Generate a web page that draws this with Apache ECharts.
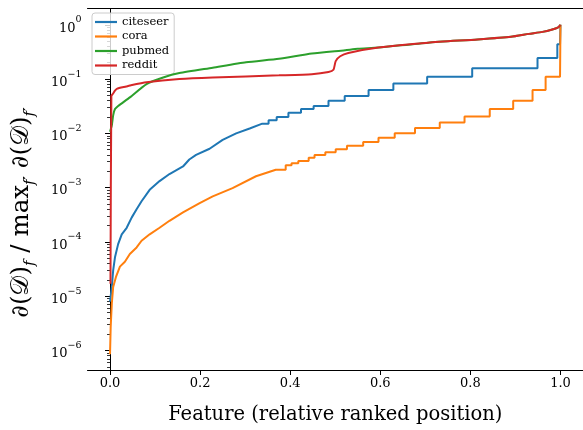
<!DOCTYPE html>
<html>
<head>
<meta charset="utf-8">
<script src="https://cdn.jsdelivr.net/npm/echarts@6/dist/echarts.min.js"></script>
<style>
html,body{margin:0;padding:0;background:#fff;}
#chart{width:583px;height:430px;}
</style>
</head>
<body>
<div id="chart"></div>
<script>
// ---- data ----
const seriesNames = ['citeseer', 'cora', 'pubmed', 'reddit'];

const citeseerX = [0, 0.004, 0.007, 0.011, 0.018, 0.026, 0.037, 0.048, 0.059, 0.070, 0.088, 0.110, 0.132, 0.162, 0.176, 0.191, 0.221, 0.250, 0.280, 0.310, 0.338,
  0.352, 0.352, 0.370, 0.370, 0.396, 0.396, 0.424, 0.424, 0.452, 0.452, 0.485, 0.485, 0.521, 0.521, 0.574, 0.574, 0.629, 0.629, 0.704, 0.704, 0.804, 0.804, 0.949, 0.949, 0.993, 0.993, 0.999, 1.0];
const citeseerY = [7.9e-6, 1.48e-5, 3.0e-5, 5.2e-5, 9.1e-5, 1.38e-4, 1.82e-4, 2.8e-4, 4.0e-4, 5.6e-4, 9.1e-4, 1.32e-3, 1.78e-3, 2.45e-3, 3.3e-3, 4.0e-3, 5.2e-3, 7.6e-3, 0.0100, 0.0123, 0.0151,
  0.0151, 0.0175, 0.0175, 0.020, 0.020, 0.024, 0.024, 0.028, 0.028, 0.032, 0.032, 0.040, 0.040, 0.049, 0.049, 0.063, 0.063, 0.083, 0.083, 0.110, 0.110, 0.158, 0.158, 0.245, 0.245, 0.44, 0.44, 1.0];

const coraX = [0, 0.0015, 0.004, 0.007, 0.013, 0.022, 0.033, 0.044, 0.059, 0.070, 0.088, 0.110, 0.132, 0.162, 0.199, 0.228, 0.272, 0.324, 0.368,
  0.390, 0.390, 0.403, 0.403, 0.418, 0.418, 0.441, 0.441, 0.454, 0.454, 0.478, 0.478, 0.501, 0.501, 0.526, 0.526, 0.562, 0.562, 0.596, 0.596, 0.632, 0.632, 0.677, 0.677, 0.732, 0.732, 0.787, 0.787, 0.843, 0.843, 0.895, 0.895, 0.938, 0.938, 0.967, 0.967, 0.999, 1.0];
const coraY = [8.5e-7, 2.75e-6, 7.4e-6, 1.48e-5, 2.24e-5, 3.5e-5, 4.3e-5, 6.0e-5, 7.9e-5, 1.05e-4, 1.38e-4, 1.82e-4, 2.45e-4, 3.5e-4, 5.2e-4, 6.9e-4, 9.8e-4, 1.62e-3, 2.14e-3,
  2.14e-3, 2.57e-3, 2.57e-3, 2.82e-3, 2.82e-3, 3.1e-3, 3.1e-3, 3.55e-3, 3.55e-3, 4.0e-3, 4.0e-3, 4.5e-3, 4.5e-3, 5.1e-3, 5.1e-3, 5.9e-3, 5.9e-3, 6.9e-3, 6.9e-3, 8.3e-3, 8.3e-3, 0.0100, 0.0100, 0.0126, 0.0126, 0.0158, 0.0158, 0.0204, 0.0204, 0.0282, 0.0282, 0.040, 0.040, 0.063, 0.063, 0.110, 0.110, 1.0];

const pubmedX = [0, 0.004, 0.007, 0.011, 0.018, 0.044, 0.081, 0.118, 0.154, 0.228, 0.302, 0.375, 0.448, 0.522, 0.550, 0.596, 0.706, 0.816, 0.890, 0.930, 0.960, 0.980, 0.995, 1.0];
const pubmedY = [0.0107, 0.0141, 0.0214, 0.028, 0.032, 0.046, 0.081, 0.107, 0.129, 0.162, 0.204, 0.237, 0.295, 0.339, 0.360, 0.380, 0.468, 0.537, 0.600, 0.680, 0.740, 0.810, 0.900, 1.0];

const redditX = [0.001, 0.003, 0.006, 0.011, 0.015, 0.036, 0.044, 0.081, 0.154, 0.228, 0.375, 0.448, 0.485, 0.496, 0.501, 0.511, 0.529, 0.596, 0.706, 0.816, 0.890, 0.930, 0.960, 0.980, 0.995, 1.0];
const redditY = [1.7e-5, 0.049, 0.053, 0.061, 0.066, 0.073, 0.076, 0.087, 0.100, 0.107, 0.117, 0.123, 0.135, 0.148, 0.214, 0.263, 0.302, 0.380, 0.468, 0.537, 0.600, 0.680, 0.740, 0.810, 0.900, 1.0];

const xTicks = [0, 0.2, 0.4, 0.6, 0.8, 1.0];
const yTicks = [1e-6, 1e-5, 1e-4, 1e-3, 1e-2, 1e-1, 1];
const minorMantissas = [2, 3, 4, 5, 6, 7, 8, 9];
const minorExponents = [-7, -6, -5, -4, -3, -2, -1, 0];

const colors = ['#1f77b4', '#ff7f0e', '#2ca02c', '#d62728'];
const FONT = 'DejaVu Serif';

const yMin = Math.pow(10, -6.36);
const yMax = Math.pow(10, 0.30);

const yMinor = [];
minorExponents.forEach(function (e) {
  minorMantissas.forEach(function (m) {
    const v = m * Math.pow(10, e);
    if (v > yMin && v < yMax) yMinor.push(v);
  });
});

function zip(xs, ys) { return xs.map(function (x, i) { return [x, ys[i]]; }); }

const chart = echarts.init(document.getElementById('chart'), null, {renderer: 'canvas'});

const NB = '\u00a0';
const option = {
  animation: false,
  backgroundColor: '#fff',
  grid: {left: 87.5, right: -3, top: 8.5, bottom: 56, show: false},
  legend: {
    orient: 'vertical',
    left: 92, top: 13,
    data: seriesNames,
    icon: 'rect',
    itemWidth: 22, itemHeight: 2.2,
    itemGap: 2.5,
    padding: [3, 5, 3, 3],
    borderColor: '#cccccc', borderWidth: 1, borderRadius: 3,
    backgroundColor: 'rgba(255,255,255,0.8)',
    textStyle: {fontFamily: FONT, fontSize: 11.5, color: '#000', lineHeight: 11}
  },
  xAxis: [{
    type: 'value', min: -0.05, max: 1.05,
    axisLine: {show: true, lineStyle: {color: '#000', width: 1}},
    axisTick: {show: true, length: 5, customValues: xTicks, lineStyle: {color: '#000', width: 1}},
    axisLabel: {
      customValues: xTicks, color: '#000', fontFamily: FONT, fontSize: 13, margin: 7,
      formatter: function (v) { return v.toFixed(1); }
    },
    splitLine: {show: false},
    name: 'Feature (relative ranked position)',
    nameLocation: 'middle', nameGap: 35,
    nameTextStyle: {fontFamily: FONT, fontSize: 19.5, color: '#000'}
  }, {
    type: 'value', min: -0.05, max: 1.05, position: 'top',
    axisLine: {show: true, onZero: false, lineStyle: {color: '#000', width: 1}},
    axisTick: {show: false}, axisLabel: {show: false}, splitLine: {show: false}
  }],
  yAxis: [{
    type: 'log', logBase: 10, min: yMin, max: yMax,
    axisLine: {show: true, lineStyle: {color: '#000', width: 1}},
    axisTick: {show: true, length: 5, customValues: yTicks, lineStyle: {color: '#000', width: 1}},
    axisLabel: {
      customValues: yTicks, margin: 6,
      formatter: function (v) {
        const e = Math.round(Math.log10(v));
        return '{b|10}{s|' + (e === 0 ? '0' : '\u2212' + (-e)) + '}';
      },
      rich: {
        b: {fontFamily: FONT, fontSize: 13, color: '#000', lineHeight: 20, verticalAlign: 'bottom'},
        s: {fontFamily: FONT, fontSize: 9.5, color: '#000', lineHeight: 10, verticalAlign: 'top'}
      }
    },
    splitLine: {show: false},
    name: '{a|\u2202(\uD835\uDC9F)}{u|f}{a| / max}{u|f\u2032}{a| \u2202(\uD835\uDC9F)}{u|f\u2032}{a|' + NB + NB + NB + NB + NB + NB + '}',
    nameLocation: 'middle', nameRotate: 90, nameGap: 50,
    nameTextStyle: {
      rich: {
        a: {fontFamily: FONT, fontSize: 24.5, color: '#000', lineHeight: 28, verticalAlign: 'top'},
        u: {fontFamily: FONT, fontSize: 15, fontStyle: 'italic', color: '#000', lineHeight: 28, verticalAlign: 'bottom'}
      }
    }
  }, {
    type: 'log', logBase: 10, min: yMin, max: yMax, position: 'left',
    axisLine: {show: false},
    axisTick: {show: true, length: 3, customValues: yMinor, lineStyle: {color: '#000', width: 0.8}},
    axisLabel: {show: false},
    splitLine: {show: false}
  }],
  series: [
    {name: 'citeseer', type: 'line', data: zip(citeseerX, citeseerY), showSymbol: false, symbol: 'none',
     lineStyle: {color: colors[0], width: 2}, itemStyle: {color: colors[0]}, z: 2},
    {name: 'cora', type: 'line', data: zip(coraX, coraY), showSymbol: false, symbol: 'none',
     lineStyle: {color: colors[1], width: 2}, itemStyle: {color: colors[1]}, z: 3},
    {name: 'pubmed', type: 'line', smooth: 0.2, data: zip(pubmedX, pubmedY), showSymbol: false, symbol: 'none',
     lineStyle: {color: colors[2], width: 2}, itemStyle: {color: colors[2]}, z: 4},
    {name: 'reddit', type: 'line', smooth: 0.2, data: zip(redditX, redditY), showSymbol: false, symbol: 'none',
     lineStyle: {color: colors[3], width: 2}, itemStyle: {color: colors[3]}, z: 5}
  ]
};
chart.setOption(option);
</script>
</body>
</html>
